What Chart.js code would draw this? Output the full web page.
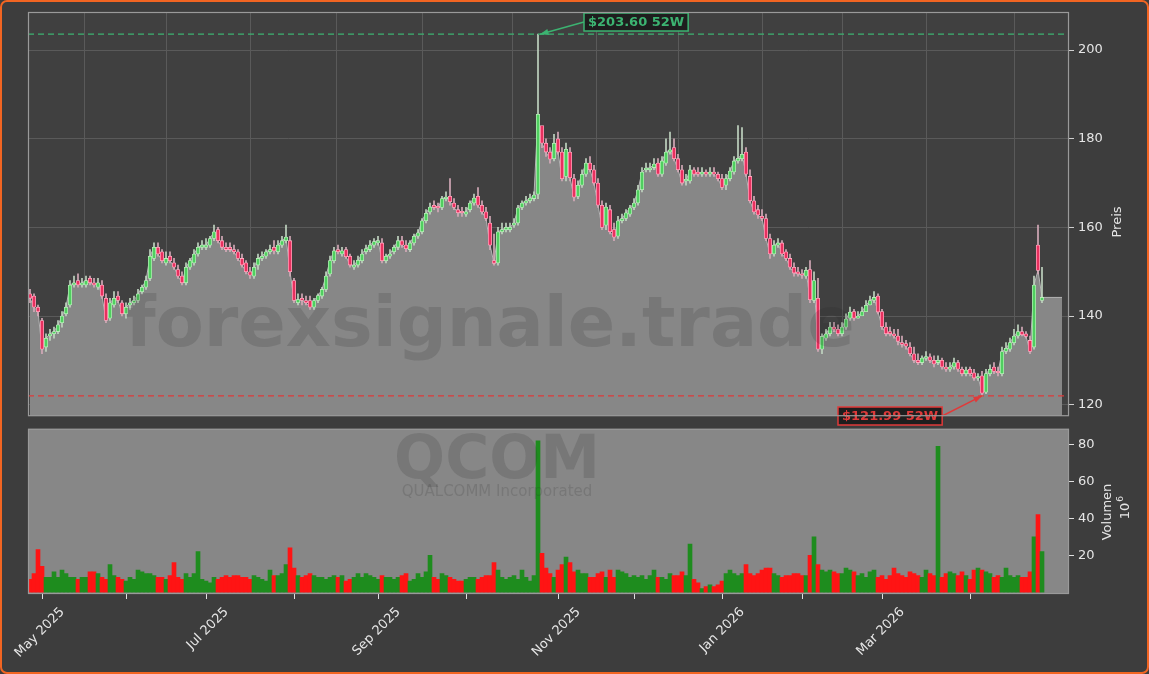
<!DOCTYPE html>
<html><head><meta charset="utf-8">
<script src="https://cdn.jsdelivr.net/npm/chart.js@4.4.1/dist/chart.umd.min.js"></script>
<style>
html,body{margin:0;padding:0;background:#3d3d3d;width:1149px;height:674px;overflow:hidden}
canvas{position:absolute;left:0}
#frame{position:absolute;left:0;top:0;width:1149px;height:674px;box-sizing:border-box;border:2px solid #f26522;border-radius:7px;pointer-events:none}
</style></head><body>
<canvas id="p" style="top:0" width="1149" height="428"></canvas>
<canvas id="v" style="top:417px" width="1149" height="257"></canvas>
<div id="frame"></div>
<script>
const opens=[145,144.5,142,139,133,135.5,136,136.5,138.5,140.5,
142.5,147,148,147,147,148.5,147.5,146.5,147,144,
139.5,142.5,144.5,143,140.5,142.5,143,143.5,145.5,146.5,
148.5,153,155.5,154.5,152,153.5,152,150.5,149,147.5,
151,152,154,155.5,155.5,156,157.5,159.5,157,155.5,
155.5,155,154.5,153,152,150,149,151.5,153,153.5,
154.5,155.5,154.5,156,157,157,148,143,144,143.5,
143.5,142,143.5,144.5,146,149.5,152.5,155,154,155,
153.5,151,151.5,152.5,154.5,155,156,156.5,156.5,152.5,
153.5,154.5,155.5,157,156,155,156.5,158,159,161.5,
163.5,165,164.5,164.5,166.5,167,165.5,164,163.5,163,
164,165.5,167,165,163.5,161,152.5,152,159,159.5,
159.5,160.5,161,164.5,165.5,166,166.5,167.5,183,179,
177,175.5,180,177,171.5,177,171,167,169.5,172,
174.5,173,170,165,160.5,164,159.5,158,161.5,162,
163,164.5,165.5,168.5,173,173,173.5,174.5,172,174.5,
177,178,175.5,173,170.5,170.5,173,172.5,172,172.5,
172,172.5,172,171,169.5,171,172.5,175,175.5,177,
171.5,166,164,162.5,162,157.5,154,156,156.5,154.5,
153,151,150,149.5,149,150.5,143.5,144,132.5,135,
136,137.5,137,136,137.5,139.5,141,139.5,140,141,
142.5,143.5,144.5,141,137.5,136.5,136,135.5,134,133.8,
133,131.5,130,129.5,130.5,130.8,130,129.5,130,128.5,
128,128.5,129.5,128,127,128,127.2,126,126.5,122.8,
127,128.5,127.5,127,132,132.5,134,135.5,136.5,136,
134.5,133,156,143.5];
const closes=[144,142,141,132.5,135,136,136.5,138,140,142,
147,147.5,147,147.5,148,147.5,147,147.5,144.5,139,
143,144,143.5,140.5,142,143,143.5,145,146.5,148,
153.5,155.5,154,152.5,153,152.5,151,149,147.5,151,
152.5,154,155.5,156,156,157.5,159,157,155.5,155,
155,154.5,153,151.5,150,149.2,151,153,153.5,154.5,
155,154.7,156,157,157.8,150,143.5,143.7,143.5,143,
142,143.5,144.6,146,149,152.5,154.7,154.5,154.7,153.4,
151.5,151.5,152.6,154,155.2,156,156.8,157,152.5,153.5,
154,155.5,157,156,155.2,156.5,158,158.8,161.5,163.2,
164.6,164.5,164.4,166.5,166.8,165.8,164.5,163.3,163.3,163.5,
165.5,166.6,165,163.5,162,156,151.9,159,159.5,160,
160,161,164.4,165.5,166,166.6,167.3,185.5,179,177,
175.4,179,177,171,177.6,171.2,166.8,169.5,172,174.5,
173,170,165,160,164.6,159,157.8,161.5,162,163.3,
164.4,165.5,168.5,172.5,173.4,173.4,174.3,172,175,177,
177.5,175.5,173,170,170.5,173,172,172,172.5,172,
172.5,172,171,169,171,172.7,175,175.6,176.5,172,
166,163.5,162.8,162,157.5,154,156,156.5,154,153,
151,149.7,149.5,149.2,150.3,143.7,148,132.5,135.4,136,
137.5,137,136,137.5,139.3,140.9,139.5,140,141,142.4,
143.5,144.2,140.9,137.6,136,136,135.5,134.3,133.6,133.2,
131.5,130,129.5,130.5,130.6,130,129.2,130,128.5,128,
128.5,129.5,128,127,127.8,127,126,126.3,122.6,127,
128,127.5,127.2,132,132.7,134,135.5,136.5,135.8,135.4,
132,147,150.3,144.2];
const highs=[146,145,142.5,139.5,136,137,137.5,139,141,143,
148,149,149.5,148.5,149,149,148.5,148.5,148,145,
144,145.5,145.5,143.5,143,144,144.5,146,147,149,
155,156.5,156.5,155,154.5,154.5,153,151.5,150,152,
153,155,156.5,157,157.5,158,160.5,160,158,156.5,
156.5,156,155,154,152.5,151,152,154,154.5,155,
156,157,157,158,160.5,158,148.5,145,145,144.5,
144.5,144,145,146.5,150,153.5,155.5,156,155.5,155.5,
154,152.5,153.5,155,156,157,157.5,158,157.5,154,
155,156,158,158,157,157,158.5,159.5,162,164,
165.5,166,165.5,167,168,171,166.5,165,164.5,164.5,
166,167.5,169,166,164.5,162.5,158.5,160,161,161,
161,162,165,166,167,167.5,168,203.6,182,180,
178,181,181.5,178,179,178,172,170.5,173,175.5,
176,174,171,166,165.5,165,161,162.5,163,164,
165,166.5,169.5,173.5,174.5,174.5,175.5,175.5,176,180,
181.5,180,176.5,174,172,174,173.5,173.5,173.5,173,
173.5,173.5,172.5,172,172,173.5,176,183,182.5,178,
173,167,165,164,163,158.5,157,157.5,157,155,
154,152,151,150.5,151,152.5,150,148.5,136,137,
138.5,138.5,138,138.5,140.5,142,141.5,141,142,143.5,
144.5,145.5,145,141.5,138.5,137.5,137,137,135.5,134.5,
134,133,131.5,131,132,131.5,131,131,130.5,129.5,
129.5,130.5,130,128.5,128.5,128.5,128,127,127.5,128,
129,129.5,128.5,133,134,135,137,138,137.5,136.5,
135.5,149,160.5,151];
const lows=[143,141,140,131.5,132,134.5,135,136,137.5,140,
142,146.5,146.5,146.5,146.5,147,146.5,146,144,138.5,
139,142,143,140,139.5,141.5,142.5,143,145,146,
148,152.5,153.5,152,151.5,152,150.5,148.5,147,147,
150.5,151.5,153.5,155,155,155.5,157,156.5,155,154.5,
154.5,154,152.5,151,149.5,148.5,148.5,150.5,152.5,153,
154,154,154,155.5,156.5,149,143,142.5,142.5,142.5,
141.5,141.5,143,144,145.5,149,152,154,153.5,153,
151,150.5,151,152,154,154.5,155.5,156,152,152,
153,154,155,155.5,154.5,154.5,156,157.5,158.5,161,
163,164,163.5,164,166,165,164,162.5,162.5,162.5,
163.5,165,164.5,163,161.5,155,151.5,151.5,158.5,159,
159,160,160.5,164,165,165.5,166,166.5,178,176,
174.5,175,176.5,170.5,170.5,170.5,166,166.5,169,171.5,
172.5,169.5,164.5,159.5,159.5,158.5,157,157.5,161,161.5,
162.5,164,165,168,172.5,172.5,173,171.5,171.5,174,
176.5,175,172.5,169.5,169.5,170,171.5,171.5,171.5,171.5,
171.5,171.5,170.5,168.5,168.5,170.5,172,174.5,175,171.5,
165.5,163,162,161.5,157,153,153.5,155.5,153.5,152.5,
150.5,149,149,148.5,148.5,143,143,132,131.5,134.5,
135.5,136.5,135.5,135.5,137,139,139,139.5,140.5,141,
142.5,143,140.5,137,135.5,135.5,135,133.5,133,132.5,
131,129.5,129,129,130,129.5,128.5,129,128,127.5,
127.5,128,127.5,126.5,126.5,126.5,125.5,125.5,121.99,122.5,
126.5,127,126.5,126.5,131.5,132,133.5,135,135.5,135,
131.5,132.5,149.5,143];
const volumes=[7,10,23,14,8,8,11,8,12,10,
8,8,7,8,8,11,11,10,8,7,
15,9,8,7,6,8,7,12,11,10,
10,9,8,8,7,9,16,8,7,10,
8,10,22,7,6,5,8,7,8,9,
8,9,9,8,8,7,9,8,7,6,
12,9,9,10,15,24,13,9,8,9,
10,9,8,8,7,8,9,8,9,6,
7,8,10,8,10,9,8,7,9,8,
8,7,8,9,10,6,7,10,8,11,
20,8,7,10,9,8,7,6,6,7,
8,8,7,8,9,9,16,12,8,7,
8,9,7,12,8,6,9,82,21,13,
10,8,12,15,19,16,11,12,10,10,
8,8,10,11,8,12,8,12,11,10,
8,9,8,9,7,9,12,8,8,7,
10,9,9,11,9,26,7,5,2,3,
4,3,4,6,10,12,10,9,10,15,
10,9,10,12,13,13,10,9,8,9,
9,10,10,9,9,20,30,15,12,11,
12,11,10,10,13,12,11,9,10,8,
11,12,8,9,7,9,13,10,9,8,
11,10,9,8,12,10,9,79,8,10,
11,10,9,11,9,7,12,13,12,11,
10,8,9,8,13,9,8,9,8,8,
11,30,42,22];
const projection=[144.2,144.2,144.2,144.2,144.2];
const monthIdx=[3,24,44,66,87,109,132,151,173,193,213,235];
const monthLbl=['May 2025','','Jul 2025','','Sep 2025','','Nov 2025','','Jan 2026','','Mar 2026',''];
const priceTicks=[120,140,160,180,200];
const volTicks=[20,40,60,80];
const high52=203.60, low52=121.99;

const N=closes.length;
const up=closes.map((c,i)=>c>=opens[i]);
const XMIN=-0.5, XMAX=259.75;
const F="'DejaVu Sans', sans-serif";
const TXT='#e6e6e6';
const xScaleCommon={type:'linear',min:XMIN,max:XMAX,offset:false,bounds:'ticks',
  afterBuildTicks:s=>{s.ticks=monthIdx.map(v=>({value:v}));}};

const area=closes.map((c,i)=>({x:i,y:c})).concat(projection.map((p,k)=>({x:N+k,y:p})));

const bgPlug={id:'bg',beforeDraw(c,a,o){const {ctx,chartArea:ca}=c;ctx.save();ctx.fillStyle=o.color;ctx.fillRect(ca.left,ca.top,ca.right-ca.left,ca.bottom-ca.top);ctx.restore();},
 afterDraw(c){const {ctx,chartArea:ca}=c;ctx.save();ctx.strokeStyle='#9a9a9a';ctx.lineWidth=1.2;ctx.strokeRect(ca.left+0.5,ca.top+0.5,ca.right-ca.left-1,ca.bottom-ca.top-1);ctx.restore();}};

const pricePlug={id:'pp',
 afterDatasetsDraw(c){const {ctx,chartArea:ca,scales}=c;const y=scales.y,x=scales.x;
  ctx.save();
  ctx.fillStyle='rgba(40,40,40,0.16)';ctx.font="bold 70px "+F;ctx.textAlign='center';ctx.textBaseline='middle';
  ctx.fillText('forexsignale.trade',490,328);
  ctx.setLineDash([6,4]);ctx.lineWidth=1.3;
  let yh=y.getPixelForValue(high52),yl=y.getPixelForValue(low52);
  ctx.strokeStyle='#3cb371';ctx.beginPath();ctx.moveTo(ca.left,yh);ctx.lineTo(ca.right,yh);ctx.stroke();
  ctx.strokeStyle='#e03a3a';ctx.beginPath();ctx.moveTo(ca.left,yl);ctx.lineTo(ca.right,yl);ctx.stroke();
  ctx.setLineDash([]);
  function label(txt,bx,by,col,tx,ty){
   ctx.font="bold 13px "+F;const w=ctx.measureText(txt).width+8;
   const sx=bx<tx?bx+w:bx;
   ctx.strokeStyle=col;ctx.lineWidth=1.5;ctx.beginPath();ctx.moveTo(sx,by+9);ctx.lineTo(tx,ty);ctx.stroke();
   const ang=Math.atan2(ty-(by+9),tx-sx);
   ctx.fillStyle=col;ctx.beginPath();ctx.moveTo(tx,ty);ctx.lineTo(tx-9*Math.cos(ang-0.35),ty-9*Math.sin(ang-0.35));ctx.lineTo(tx-9*Math.cos(ang+0.35),ty-9*Math.sin(ang+0.35));ctx.fill();
   ctx.fillStyle='#1e1e1e';ctx.fillRect(bx,by,w,18);ctx.strokeRect(bx,by,w,18);
   ctx.fillStyle=col;ctx.textAlign='left';ctx.textBaseline='middle';ctx.fillText(txt,bx+4,by+9.5);
  }
  label('$203.60 52W',584,13,'#3cb371',x.getPixelForValue(127)+2,yh);
  label('$121.99 52W',838,407,'#e03a3a',x.getPixelForValue(238),yl);
  ctx.fillStyle=TXT;ctx.font="13px "+F;ctx.translate(1118,222);ctx.rotate(-Math.PI/2);ctx.textAlign='center';ctx.fillText('Preis',0,0);
  ctx.restore();}};

const volPlug={id:'vp',
 afterDatasetsDraw(c){const {ctx,chartArea:ca,scales}=c;ctx.save();
  ctx.fillStyle='rgba(40,40,40,0.16)';ctx.textAlign='center';ctx.textBaseline='middle';
  ctx.font="bold 60px "+F;ctx.fillText('QCOM',497,45);
  ctx.font="15px "+F;ctx.fillText('QUALCOMM Incorporated',497,75);
  ctx.fillStyle=TXT;ctx.font="13px "+F;
  ctx.save();ctx.translate(1108,95);ctx.rotate(-Math.PI/2);ctx.fillText('Volumen',0,0);ctx.restore();
  ctx.save();ctx.translate(1126,91);ctx.rotate(-Math.PI/2);ctx.fillText('10',-3,0);ctx.font="9px "+F;ctx.fillText('6',9,-5);ctx.restore();
  ctx.strokeStyle='#e0e0e0';ctx.lineWidth=1;ctx.font="13px "+F;ctx.textAlign='right';ctx.textBaseline='middle';
  monthIdx.forEach((m,k)=>{const px=Math.round(scales.x.getPixelForValue(m))+0.5;
    ctx.beginPath();ctx.moveTo(px,ca.bottom);ctx.lineTo(px,ca.bottom+5);ctx.stroke();
    if(monthLbl[k]){ctx.save();ctx.translate(px+20,ca.bottom+16);ctx.rotate(-Math.PI/4);ctx.fillText(monthLbl[k],0,0);ctx.restore();}
  });
  ctx.restore();}};

new Chart(document.getElementById('p'),{
 data:{datasets:[
  {type:'line',data:area,borderColor:'#b4b4b4',borderWidth:1,backgroundColor:'#878787',fill:'start',pointRadius:0,tension:0,order:3},
  {type:'bar',data:closes.map((c,i)=>({x:i,y:[lows[i],highs[i]]})),backgroundColor:up.map(u=>u?'#c0d4c0':'#d4aab8'),barThickness:1,grouped:false,order:2},
  {type:'bar',data:closes.map((c,i)=>({x:i,y:[opens[i],c]})),backgroundColor:up.map(u=>u?'#4fcf5f':'#e8305f'),borderColor:up.map(u=>u?'#b8ecb8':'#ffa8be'),borderWidth:0.8,borderSkipped:false,barThickness:3.5,minBarLength:1.5,grouped:false,order:1}
 ]},
 options:{responsive:false,animation:false,events:[],
  layout:{padding:{left:28,top:12,right:0,bottom:1}},
  plugins:{legend:{display:false},tooltip:{enabled:false},bg:{color:'#404040'}},
  scales:{
   x:Object.assign({display:true,grid:{color:'#5a5a5a',drawTicks:false},ticks:{display:false},border:{display:false},afterFit:s=>{s.height=0;}},xScaleCommon),
   y:{position:'right',min:117.4,max:208.6,afterBuildTicks:s=>{s.ticks=priceTicks.map(v=>({value:v}));},
      afterFit:s=>{s.width=80;},grid:{color:'#5a5a5a',tickLength:5,tickColor:'#cfcfcf'},border:{display:false},
      ticks:{color:TXT,font:{family:F,size:13},padding:4}}
  }},
 plugins:[bgPlug,pricePlug]});

new Chart(document.getElementById('v'),{
 data:{datasets:[
  {type:'bar',data:volumes.map((v,i)=>({x:i,y:v})),backgroundColor:up.map(u=>u?'#1e8c1e':'#ff1414'),barThickness:4,grouped:false}
 ]},
 options:{responsive:false,animation:false,events:[],
  layout:{padding:{left:28,top:10,right:0,bottom:80}},
  plugins:{legend:{display:false},tooltip:{enabled:false},bg:{color:'#878787'}},
  scales:{
   x:Object.assign({display:false},xScaleCommon),
   y:{position:'right',min:-1,max:88.5,afterBuildTicks:s=>{s.ticks=volTicks.map(v=>({value:v}));},
      afterFit:s=>{s.width=80;},grid:{drawOnChartArea:false,tickLength:5,tickColor:'#e0e0e0'},border:{display:false},
      ticks:{color:TXT,font:{family:F,size:13},padding:4}}
  }},
 plugins:[bgPlug,volPlug]});
</script></body></html>
